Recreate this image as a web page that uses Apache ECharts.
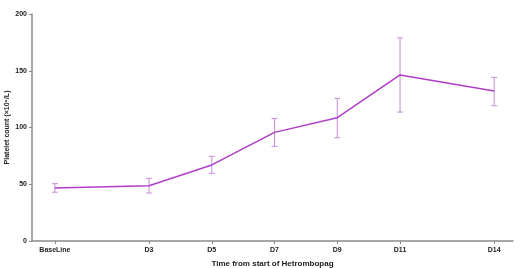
<!DOCTYPE html>
<html>
<head>
<meta charset="utf-8">
<script src="https://cdn.jsdelivr.net/npm/echarts@6/dist/echarts.min.js"></script>
<style>
  html, body { margin: 0; padding: 0; background: #fff; }
  #chart { width: 520px; height: 268px; }
</style>
</head>
<body>
<div id="chart"></div>
<script>
// time points (day from start) and their labels
var days = [0, 3, 5, 7, 9, 11, 14];
var dayLabels = ['BaseLine', 'D3', 'D5', 'D7', 'D9', 'D11', 'D14'];
// platelet count, mean and error-bar ends
var meanVals = [46.7, 48.7, 67, 95.7, 108.6, 146.3, 132.2];
var upperVals = [50.5, 55.2, 74.6, 108, 125.7, 179, 144.2];
var lowerVals = [43, 42.3, 59.6, 83.4, 91, 113.6, 119.2];
var yTicks = [0, 50, 100, 150, 200];

var lineColor = '#b03cc8';
var barColor = '#c98ad8';
var axisColor = '#8a8a8a';
var font = 'Liberation Sans, Arial, sans-serif';

var chart = echarts.init(document.getElementById('chart'));

var linePts = days.map(function (d, i) { return [d, meanVals[i]]; });
var errPts = days.map(function (d, i) { return [d, lowerVals[i], upperVals[i]]; });

chart.setOption({
  animation: false,
  grid: { left: 32, top: 14, right: 7, bottom: 27, outerBoundsMode: 'none', containLabel: false },
  xAxis: {
    type: 'value',
    min: -0.73,
    max: 14.6,
    name: 'Time from start of Hetrombopag',
    nameLocation: 'middle',
    nameGap: 19,
    nameMoveOverlap: false,
    nameTextStyle: { fontFamily: font, fontWeight: 'bold', fontSize: 8, color: '#222' },
    splitLine: { show: false },
    axisLine: { onZero: false, lineStyle: { color: axisColor, width: 1.5 } },
    axisTick: { customValues: days, length: 3, lineStyle: { color: axisColor } },
    axisLabel: {
      customValues: days,
      formatter: function (v) {
        var i = days.indexOf(v);
        return i >= 0 ? dayLabels[i] : '';
      },
      fontFamily: font, fontWeight: 'bold', fontSize: 7, color: '#222', margin: 6
    }
  },
  yAxis: {
    type: 'value',
    min: 0,
    max: 200,
    interval: 50,
    name: 'Platelet count (×10⁹/L)',
    nameLocation: 'middle',
    nameGap: 21,
    nameMoveOverlap: false,
    nameTextStyle: { fontFamily: font, fontWeight: 'bold', fontSize: 7, color: '#222' },
    splitLine: { show: false },
    axisLine: { show: true, onZero: false, lineStyle: { color: axisColor, width: 1.5 } },
    axisTick: { show: true, length: 3, lineStyle: { color: axisColor } },
    axisLabel: {
      customValues: yTicks,
      fontFamily: font, fontWeight: 'bold', fontSize: 7, color: '#222', margin: 5
    }
  },
  series: [
    {
      type: 'custom',
      data: errPts,
      z: 1,
      renderItem: function (params, api) {
        var x = api.value(0);
        var lo = api.coord([x, api.value(1)]);
        var hi = api.coord([x, api.value(2)]);
        var cap = 3;
        var style = { stroke: barColor, lineWidth: 1 };
        return {
          type: 'group',
          children: [
            { type: 'line', shape: { x1: lo[0], y1: lo[1], x2: hi[0], y2: hi[1] }, style: style },
            { type: 'line', shape: { x1: lo[0] - cap, y1: lo[1], x2: lo[0] + cap, y2: lo[1] }, style: style },
            { type: 'line', shape: { x1: hi[0] - cap, y1: hi[1], x2: hi[0] + cap, y2: hi[1] }, style: style }
          ]
        };
      }
    },
    {
      type: 'line',
      data: linePts,
      z: 2,
      symbol: 'none',
      lineStyle: { color: lineColor, width: 1.5 }
    }
  ]
});
</script>
</body>
</html>
